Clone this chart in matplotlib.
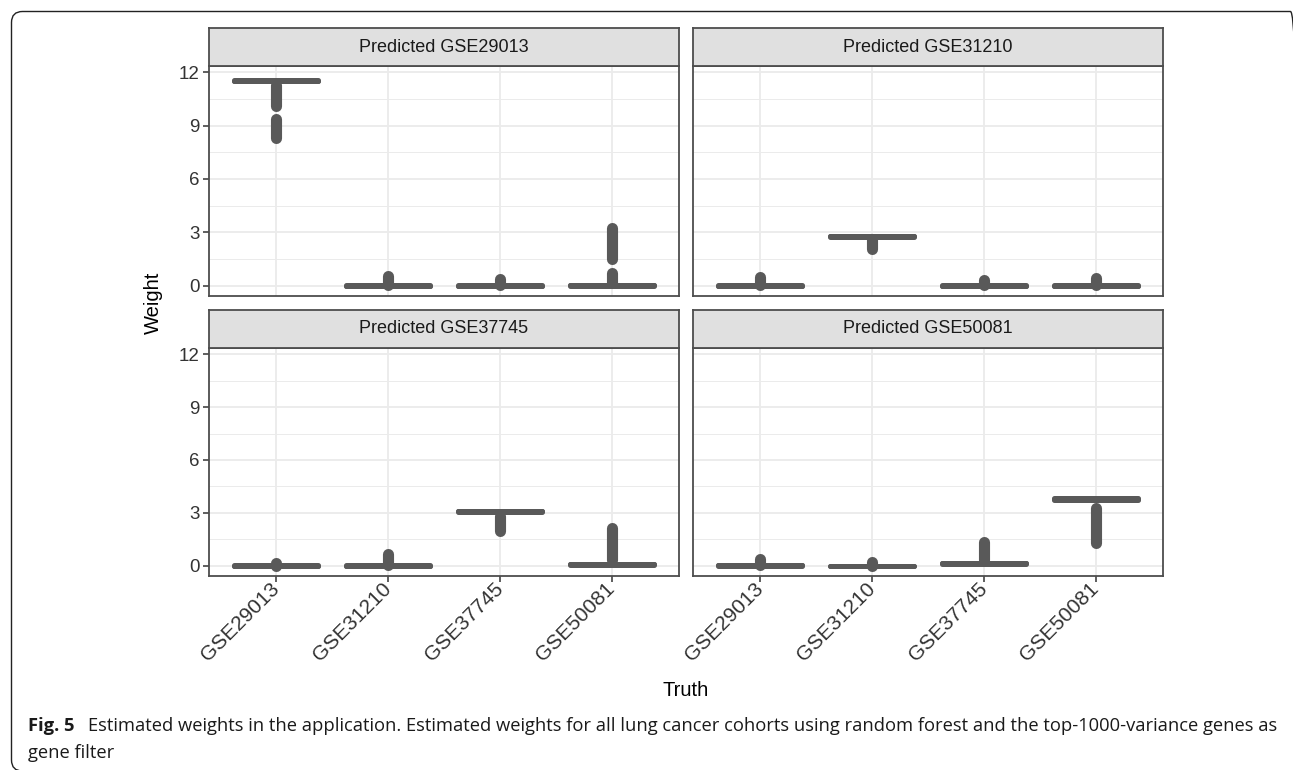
import numpy as np
import matplotlib
matplotlib.use("Agg")
import matplotlib.pyplot as plt
from matplotlib.patches import FancyBboxPatch
from matplotlib.transforms import IdentityTransform

# categories on the x axis and facet titles
truth = ["GSE29013", "GSE31210", "GSE37745", "GSE50081"]
panels = ["Predicted GSE29013", "Predicted GSE31210",
          "Predicted GSE37745", "Predicted GSE50081"]

# collapsed boxes: one row per panel, one value per truth cohort
medians = [[11.53, 0.00, 0.00, 0.02],
           [0.00, 2.79, 0.00, 0.00],
           [0.00, 0.00, 3.10, 0.08],
           [0.02, -0.01, 0.14, 3.79]]
q1 = [[11.49, -0.02, -0.02, 0.00],
      [-0.02, 2.76, -0.02, -0.02],
      [-0.02, -0.02, 3.07, 0.04],
      [0.00, -0.03, 0.11, 3.75]]
q3 = [[11.57, 0.02, 0.02, 0.05],
      [0.02, 2.82, 0.02, 0.02],
      [0.02, 0.02, 3.13, 0.12],
      [0.04, 0.01, 0.17, 3.83]]

# runs of overlapping outlier points (panel, truth index, low, high)
out_panel = [0, 0, 0, 0, 0, 0, 1, 1, 1, 1, 2, 2, 2, 2, 3, 3, 3, 3]
out_truth = [0, 0, 1, 2, 3, 3, 0, 1, 2, 3, 0, 1, 2, 3, 0, 1, 2, 3]
out_lo = [10.09, 8.31, 0.02, 0.02, 1.51, 0.14, 0.02, 2.06, 0.02, 0.02,
          0.00, 0.02, 1.97, 0.30, 0.02, 0.00, 0.35, 1.30]
out_hi = [11.30, 9.38, 0.55, 0.37, 3.22, 0.69, 0.50, 2.65, 0.31, 0.43,
          0.18, 0.69, 2.85, 2.13, 0.40, 0.23, 1.36, 3.27]

yticks = [0, 3, 6, 9, 12]

W, H = 1293, 770
fig = plt.figure(figsize=(W / 100, H / 100), dpi=100)
plt.rcParams['font.family'] = ['Liberation Sans', 'DejaVu Sans']

box_col = '#595959'
border = '#4d4d4d'
grid_col = '#ebebeb'

# outer rounded frame in pixels, cropped at the right and bottom like the page
frame = FancyBboxPatch((11.5, -1), 1290, H - 11.5 + 1,
                       boxstyle="round,pad=0,rounding_size=11",
                       transform=IdentityTransform(), fill=False,
                       edgecolor='#222222', linewidth=1.0)
fig.patches.append(frame)

# panel rectangles in pixels: left, top, right, bottom
cols = [(209, 679), (693, 1163)]
rows = [(66, 296), (348, 576)]
strip_h = 38

for p in range(4):
    r, c = divmod(p, 2)
    x0, x1 = cols[c]
    y0, y1 = rows[r]
    ax = fig.add_axes([x0 / W, 1 - y1 / H, (x1 - x0) / W, (y1 - y0) / H])

    stats = []
    for j in range(4):
        stats.append(dict(med=medians[p][j], q1=q1[p][j], q3=q3[p][j],
                          whislo=q1[p][j], whishi=q3[p][j], fliers=[]))
    ax.bxp(stats, positions=range(1, 5), widths=0.75, showcaps=False,
           showfliers=False, patch_artist=True, manage_ticks=False,
           boxprops=dict(facecolor=box_col, edgecolor=box_col, linewidth=3.6,
                         joinstyle='round', capstyle='round'),
           medianprops=dict(color=box_col, linewidth=3.6, solid_capstyle='round'),
           whiskerprops=dict(color=box_col, linewidth=3.6))

    xs = [out_truth[k] + 1 for k in range(len(out_panel)) if out_panel[k] == p]
    lo = [out_lo[k] for k in range(len(out_panel)) if out_panel[k] == p]
    hi = [out_hi[k] for k in range(len(out_panel)) if out_panel[k] == p]
    lc = ax.vlines(xs, lo, hi, colors=box_col, linewidth=8.0, zorder=4)
    lc.set_capstyle('round')

    ax.set_xlim(0.4, 4.6)
    ax.set_ylim(-0.58, 12.35)
    ax.set_yticks(yticks)
    ax.set_yticks([1.5, 4.5, 7.5, 10.5], minor=True)
    ax.set_xticks(range(1, 5))
    ax.grid(True, which='major', color=grid_col, linewidth=1.3, zorder=0)
    ax.grid(True, which='minor', axis='y', color=grid_col, linewidth=0.7, zorder=0)
    ax.set_axisbelow(True)
    for s in ax.spines.values():
        s.set_color(border)
        s.set_linewidth(1.3)
    ax.tick_params(which='major', length=4, width=1.1, color='#333333',
                   labelsize=13.5, labelcolor='#333333', pad=3)
    ax.tick_params(which='minor', length=0)
    if c == 1:
        ax.tick_params(labelleft=False, left=False)
    if r == 0:
        ax.tick_params(labelbottom=False, bottom=False)
    else:
        ax.set_xticklabels(truth, rotation=45, ha='right', va='center',
                           rotation_mode='anchor', fontsize=15)

    # facet strip
    sax = fig.add_axes([x0 / W, 1 - y0 / H, (x1 - x0) / W, strip_h / H])
    sax.set_facecolor('#e0e0e0')
    sax.set_xticks([])
    sax.set_yticks([])
    for s in sax.spines.values():
        s.set_color(border)
        s.set_linewidth(1.3)
    sax.text(0.5, 0.5, panels[p], ha='center', va='center', fontsize=13,
             color='#1a1a1a', transform=sax.transAxes)

fig.text(153 / W, 1 - 303 / H, "Weight", rotation=90, ha='center', va='center',
         fontsize=14.5, color='black')
fig.text(686 / W, 1 - 690 / H, "Truth", ha='center', va='center',
         fontsize=14.5, color='black')

cap_font = ['Open Sans', 'DejaVu Sans']
fig.text(28 / W, 1 - 726 / H, "Fig. 5", ha='left', va='center',
         fontsize=13.2, fontweight='bold', family=cap_font, color='#1a1a1a')
fig.text(88 / W, 1 - 726 / H,
         "Estimated weights in the application. Estimated weights for all lung cancer "
         "cohorts using random forest and the top-1000-variance genes as",
         ha='left', va='center', fontsize=13.2, family=cap_font, color='#1a1a1a')
fig.text(28 / W, 1 - 753 / H, "gene filter", ha='left', va='center',
         fontsize=13.2, family=cap_font, color='#1a1a1a')

fig.savefig("out.png", dpi=100)
